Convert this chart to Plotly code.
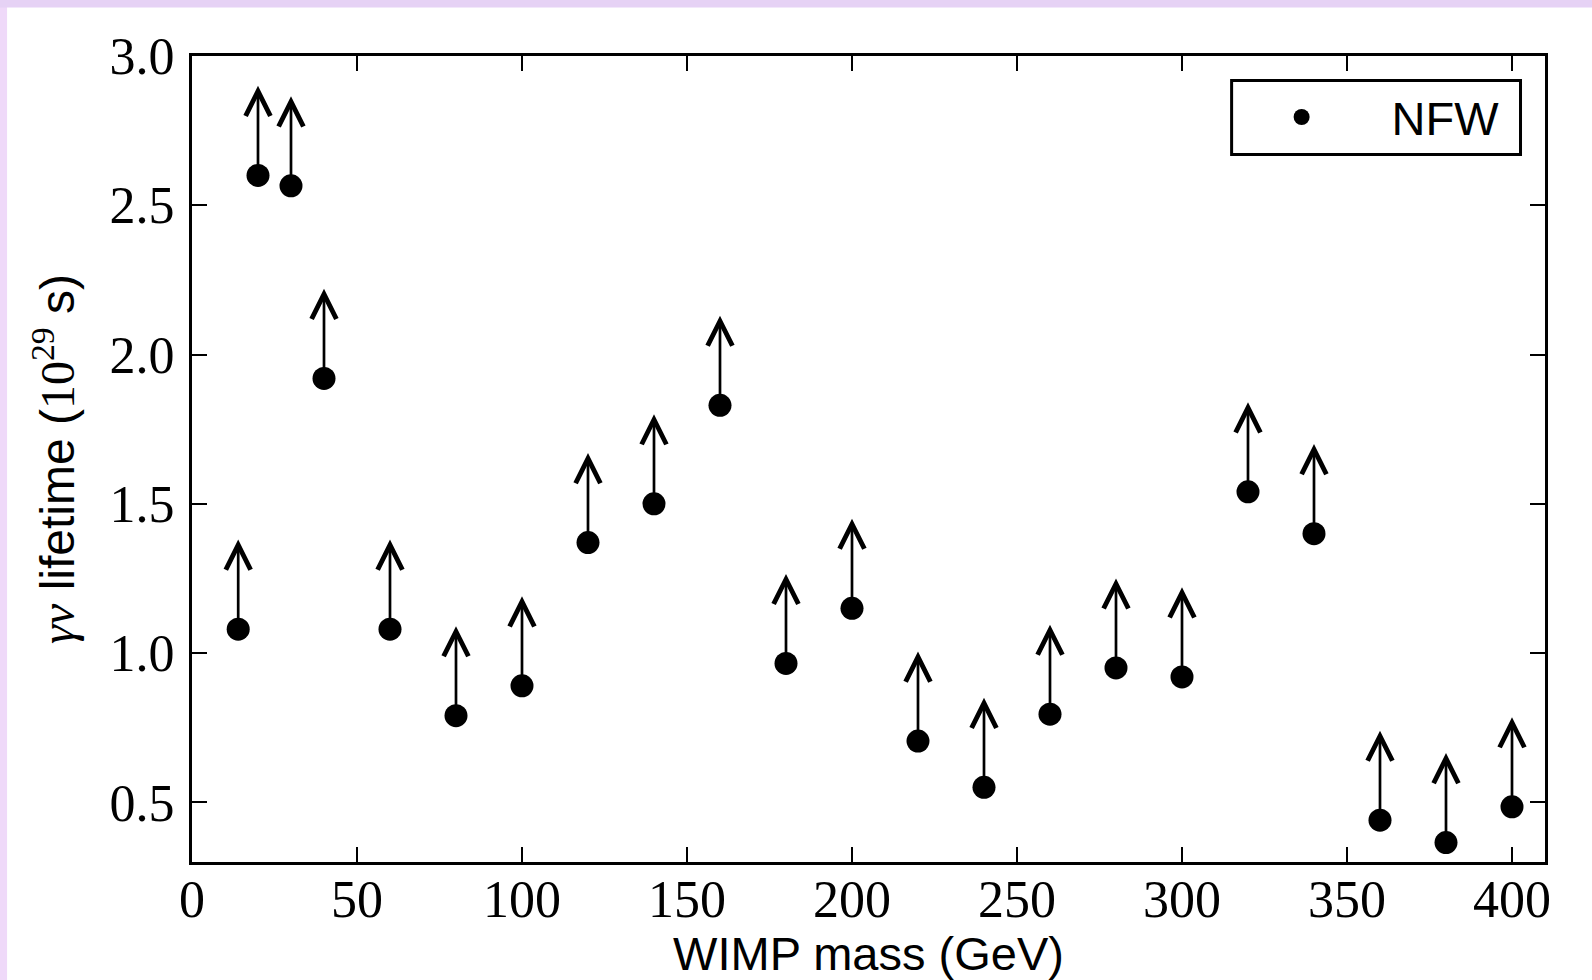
import plotly.graph_objects as go

# WIMP mass (GeV)
mass = [14, 20, 30, 40, 60, 80, 100, 120, 140, 160, 180, 200, 220, 240,
        260, 280, 300, 320, 340, 360, 380, 400]
# gamma-nu lifetime lower limits (1e29 s)
lifetime = [1.08, 2.60, 2.565, 1.92, 1.08, 0.79, 0.89, 1.37, 1.50, 1.83,
            0.965, 1.15, 0.705, 0.55, 0.795, 0.95, 0.92, 1.54, 1.40, 0.44,
            0.365, 0.485]
ARROW_LEN = 0.3  # lower-limit arrow length in data units

x_ticks = [0, 50, 100, 150, 200, 250, 300, 350, 400]
y_ticks = [0.5, 1.0, 1.5, 2.0, 2.5, 3.0]
y_ticklabels = ["0.5", "1.0", "1.5", "2.0", "2.5", "3.0"]

W, H = 1592, 980
L, R, T, B = 192, 1545.5, 55.5, 862.5
pw = R - L
ph = B - T


def px_x(p):
    return (p - L) / pw


def px_y(p):
    return (B - p) / ph


fig = go.Figure()
fig.add_trace(go.Scatter(
    x=mass, y=lifetime, mode="markers", name="NFW",
    marker=dict(color="black", size=23, symbol="circle"),
    showlegend=True,
))

annotations = []
for m, v in zip(mass, lifetime):
    annotations.append(dict(
        x=m, y=v + ARROW_LEN, ax=m, ay=v, xref="x", yref="y",
        axref="x", ayref="y", text="", showarrow=True,
        arrowhead=5, arrowwidth=2.7, arrowsize=1.8, arrowcolor="black",
    ))

lav = "#e6d2f5"
shapes = [
    dict(type="rect", xref="paper", yref="paper", layer="below",
         x0=px_x(-5), x1=px_x(7), y0=px_y(H + 5), y1=px_y(-5),
         fillcolor="#efd9f9", line=dict(width=0)),
    dict(type="rect", xref="paper", yref="paper", layer="below",
         x0=px_x(-5), x1=px_x(W + 5), y0=px_y(7), y1=px_y(-5),
         fillcolor=lav, line=dict(width=0)),
    # legend frame
    dict(type="rect", xref="paper", yref="paper", layer="above",
         x0=px_x(1232), x1=px_x(1521), y0=px_y(154), y1=px_y(80),
         fillcolor="white", line=dict(color="black", width=3)),
]

serif = "Liberation Serif, Times New Roman, serif"
sans = "Liberation Sans, Arial, sans-serif"

fig.update_layout(
    width=W, height=H,
    margin=dict(l=L, r=W - R, t=T, b=H - B, autoexpand=False),
    paper_bgcolor="white",
    plot_bgcolor="white",
    shapes=shapes,
    annotations=annotations,
    showlegend=True,
    legend=dict(
        x=px_x(1212), y=px_y(117), xanchor="left", yanchor="middle",
        bgcolor="rgba(0,0,0,0)", borderwidth=0,
        font=dict(family=sans, size=47, color="black"),
        itemwidth=170,
    ),
    xaxis=dict(
        range=[0, 410], tickvals=x_ticks, ticks="inside", ticklen=15,
        tickwidth=1.5, tickcolor="black", showline=True, linewidth=3,
        linecolor="black", mirror="ticks", showgrid=False, zeroline=False,
        tickfont=dict(family=serif, size=52, color="black"),
        ticklabelstandoff=-10,
        title=dict(text="WIMP mass (GeV)", standoff=18,
                   font=dict(family=sans, size=47, color="black")),
    ),
    yaxis=dict(
        range=[0.3, 3.0], tickvals=y_ticks, ticktext=y_ticklabels,
        ticks="inside", ticklen=15,
        tickwidth=1.5, tickcolor="black", showline=True, linewidth=3,
        linecolor="black", mirror="ticks", showgrid=False, zeroline=False,
        tickfont=dict(family=serif, size=52, color="black"),
        ticklabelstandoff=4,
        title=dict(
            text=("<span style=\"font-family:Liberation Serif\"><i>γν</i></span>"
                  " lifetime (<span style=\"font-family:Liberation Serif\">10<sup>29</sup></span> s)"),
            standoff=20,
            font=dict(family=sans, size=48, color="black")),
    ),
)

fig.write_html("out.html", config={"displayModeBar": False},
               post_script="document.body.style.margin='0';")
